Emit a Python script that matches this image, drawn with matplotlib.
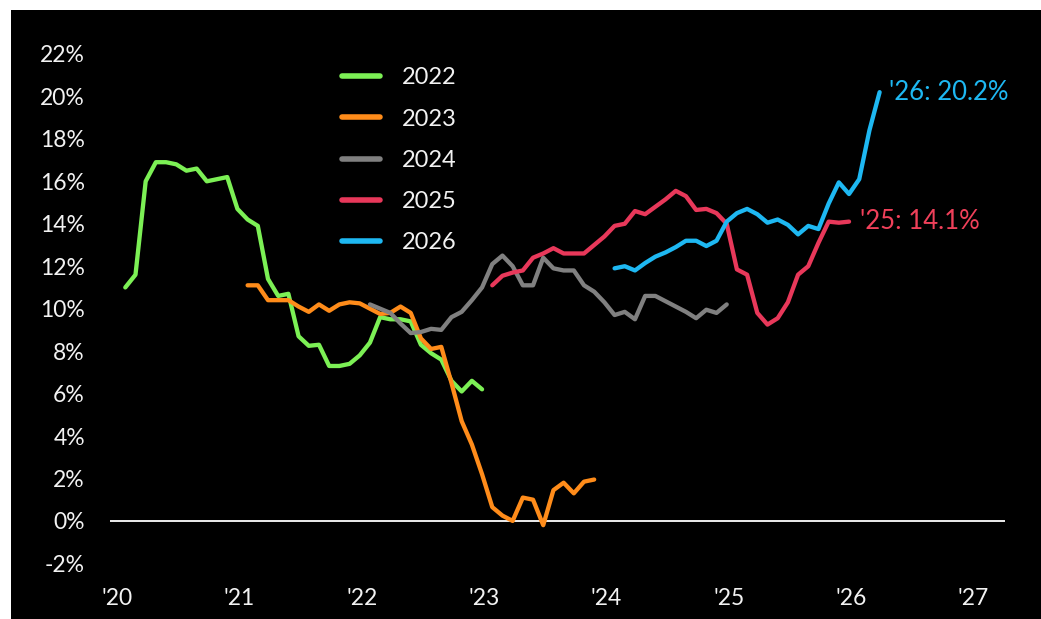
#EPS growth consensus by year, line chart on black

import numpy as np
import matplotlib.pyplot as plt
from matplotlib.patches import Rectangle

#Values, monthly points (percent)
eps_2022 = [11.0, 11.6, 16.0, 16.9, 16.9, 16.8, 16.5, 16.6, 16.0, 16.1, 16.2, 14.7,
            14.2, 13.9, 11.4, 10.6, 10.7, 8.7, 8.25, 8.3, 7.3, 7.3, 7.4, 7.8,
            8.4, 9.6, 9.5, 9.5, 9.4, 8.3, 7.9, 7.6, 6.6, 6.1, 6.6, 6.2]
eps_2023 = [11.1, 11.1, 10.4, 10.4, 10.4, 10.1, 9.85, 10.2, 9.9, 10.2, 10.3, 10.25,
            10.0, 9.75, 9.8, 10.1, 9.8, 8.6, 8.1, 8.2, 6.5, 4.7, 3.6, 2.2,
            0.65, 0.25, 0.0, 1.1, 1.0, -0.2, 1.45, 1.8, 1.3, 1.85, 1.95]
eps_2024 = [10.2, 10.0, 9.8, 9.3, 8.85, 8.9, 9.05, 9.0, 9.6, 9.85, 10.4, 11.0,
            12.1, 12.5, 12.0, 11.1, 11.1, 12.4, 11.9, 11.8, 11.8, 11.1, 10.8, 10.3,
            9.7, 9.85, 9.5, 10.6, 10.6, 10.35, 10.1, 9.85, 9.55, 9.95, 9.8, 10.2]
eps_2025 = [11.1, 11.55, 11.7, 11.8, 12.4, 12.6, 12.85, 12.6, 12.6, 12.6, 13.0, 13.4,
            13.9, 14.0, 14.6, 14.45, 14.8, 15.15, 15.55, 15.3, 14.65, 14.7, 14.5, 14.0,
            11.85, 11.6, 9.8, 9.25, 9.55, 10.3, 11.6, 12.0, 13.1, 14.1, 14.05, 14.1]
eps_2026 = [11.9, 12.0, 11.8, 12.15, 12.45, 12.65, 12.9, 13.2, 13.2, 12.95, 13.2, 14.1,
            14.5, 14.7, 14.45, 14.05, 14.2, 13.95, 13.5, 13.9, 13.75, 14.95, 15.95, 15.4,
            16.1, 18.4, 20.2]

#Each series starts in January two years before its target year (months since Jan 2020)
series = [("2022", eps_2022, 0, "#7CF055"),
          ("2023", eps_2023, 12, "#FF8C1A"),
          ("2024", eps_2024, 24, "#808080"),
          ("2025", eps_2025, 36, "#E8385A"),
          ("2026", eps_2026, 48, "#1EB8F2")]

year_ticks = ["'20", "'21", "'22", "'23", "'24", "'25", "'26", "'27"]
y_ticks = np.arange(-2, 23, 2)

plt.rcParams['font.family'] = ['Lato', 'DejaVu Sans']

fig = plt.figure(figsize=(10.41, 6.19), dpi=100, facecolor="white")
fig.patches.append(Rectangle((11/1041, 0), 1, 1 - 10/619, transform=fig.transFigure,
                             facecolor="black", edgecolor="none", zorder=-10))
ax = fig.add_axes([110/1041, 0.0727, (1005-110)/1041, 0.930-0.0727])
ax.set_facecolor("black")

for name, vals, start, col in series:
	t = start + 0.8 + np.arange(len(vals))
	ax.plot(t, vals, color=col, lw=3.1, solid_joinstyle="round",
	        solid_capstyle="round", label=name)

ax.axhline(0, color="white", lw=1.3, zorder=0)

#End labels
for name, vals, start, lab_col, dx in [("2026", eps_2026, 48, "#1EB8F2", 7),
                                      ("2025", eps_2025, 36, "#F0405A", 8)]:
	t_end = start + 0.8 + len(vals) - 1
	ax.annotate("'%s: %.1f%%" % (name[2:], vals[-1]), xy=(t_end, vals[-1]),
	            xytext=(dx, 0), textcoords="offset points", va="center", ha="left",
	            color=lab_col, fontsize=18.5)

ax.set_xlim(-0.7, 87.1)
ax.set_ylim(-2.5, 22.5)
ax.set_xticks(np.arange(0, 85, 12))
ax.set_xticklabels(year_ticks)
ax.set_yticks(y_ticks)
ax.set_yticklabels(["%d%%" % v for v in y_ticks])
ax.tick_params(axis="both", length=0, colors="#F2F2F2", labelsize=16.5)
ax.tick_params(axis="x", pad=10)
ax.tick_params(axis="y", pad=18)
for s in ax.spines.values():
	s.set_visible(False)

leg = ax.legend(loc="upper left", bbox_to_anchor=(0.236, 0.995), frameon=False,
                fontsize=17, labelcolor="#F2F2F2", handlelength=1.6,
                labelspacing=0.86, handletextpad=0.9)
for h in leg.get_lines():
	h.set_linewidth(4)

fig.savefig("out.png", dpi=100, facecolor=fig.get_facecolor())
